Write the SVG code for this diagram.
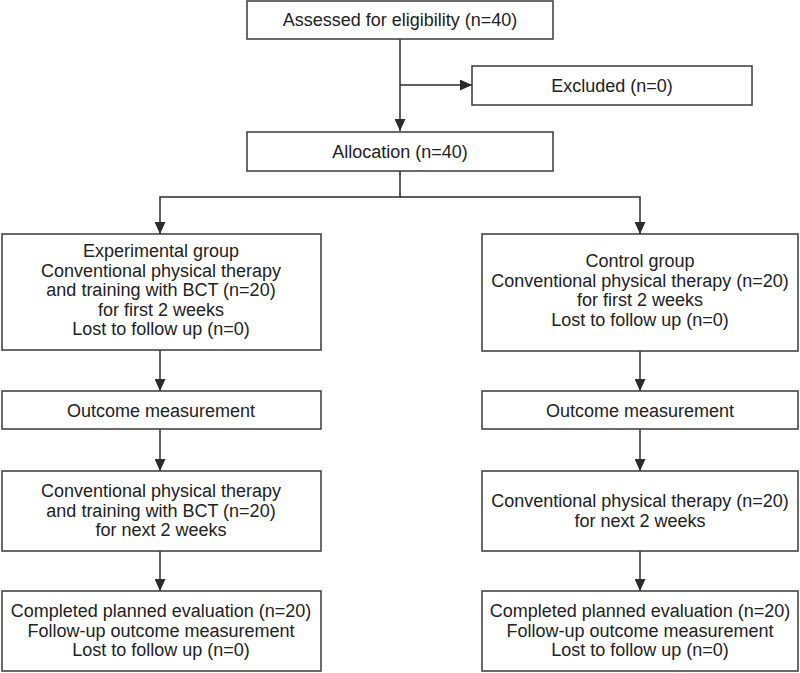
<svg xmlns="http://www.w3.org/2000/svg" width="800" height="673" viewBox="0 0 800 673">
<defs>
<marker id="ah" markerWidth="12" markerHeight="11" refX="12" refY="5.5" orient="auto" markerUnits="userSpaceOnUse">
<path d="M0,0 L12,5.5 L0,11 Z" fill="#2b2b2b"/>
</marker>
<style>
.box{fill:#fff;stroke:#3a3a3a;stroke-width:1.5}
.t{font-family:"Liberation Sans",Arial,sans-serif;font-size:18px;fill:#222;text-anchor:middle}
.c{fill:none;stroke:#2b2b2b;stroke-width:1.5}
</style>
</defs>
<rect width="800" height="673" fill="#fff"/>
<g id="connectors">
<path class="c" d="M400,39 V131" marker-end="url(#ah)"/>
<path class="c" d="M400,85 H472" marker-end="url(#ah)"/>
<path class="c" d="M400,171 V197 H160 V234" marker-end="url(#ah)"/>
<path class="c" d="M400,197 H640 V234" marker-end="url(#ah)"/>
<path class="c" d="M160,350 V391" marker-end="url(#ah)"/>
<path class="c" d="M160,429 V471" marker-end="url(#ah)"/>
<path class="c" d="M160,551 V591" marker-end="url(#ah)"/>
<path class="c" d="M640,351 V391" marker-end="url(#ah)"/>
<path class="c" d="M640,429 V471" marker-end="url(#ah)"/>
<path class="c" d="M640,551 V591" marker-end="url(#ah)"/>
</g>
<g id="assessed">
<rect class="box" x="247" y="1" width="306" height="38"/>
<text class="t" x="400" y="26">Assessed for eligibility (n=40)</text>
</g>
<g id="excluded">
<rect class="box" x="472" y="66" width="280" height="39"/>
<text class="t" x="612" y="92">Excluded (n=0)</text>
</g>
<g id="allocation">
<rect class="box" x="247" y="132" width="306" height="39"/>
<text class="t" x="400" y="158">Allocation (n=40)</text>
</g>
<g id="experimental">
<rect class="box" x="2" y="234" width="319" height="116"/>
<text class="t" x="161" y="257">Experimental group</text>
<text class="t" x="161" y="276.5">Conventional physical therapy</text>
<text class="t" x="161" y="296">and training with BCT (n=20)</text>
<text class="t" x="161" y="315.5">for first 2 weeks</text>
<text class="t" x="161" y="335">Lost to follow up (n=0)</text>
</g>
<g id="control">
<rect class="box" x="482" y="234" width="316" height="117"/>
<text class="t" x="640" y="267">Control group</text>
<text class="t" x="640" y="286.5">Conventional physical therapy (n=20)</text>
<text class="t" x="640" y="306">for first 2 weeks</text>
<text class="t" x="640" y="325.5">Lost to follow up (n=0)</text>
</g>
<g id="outcome-left">
<rect class="box" x="2" y="391" width="319" height="38"/>
<text class="t" x="161" y="417">Outcome measurement</text>
</g>
<g id="outcome-right">
<rect class="box" x="482" y="391" width="316" height="38"/>
<text class="t" x="640" y="417">Outcome measurement</text>
</g>
<g id="therapy-left">
<rect class="box" x="2" y="471" width="319" height="80"/>
<text class="t" x="161" y="497">Conventional physical therapy</text>
<text class="t" x="161" y="516.5">and training with BCT (n=20)</text>
<text class="t" x="161" y="536">for next 2 weeks</text>
</g>
<g id="therapy-right">
<rect class="box" x="482" y="471" width="316" height="80"/>
<text class="t" x="640" y="507">Conventional physical therapy (n=20)</text>
<text class="t" x="640" y="526.5">for next 2 weeks</text>
</g>
<g id="final-left">
<rect class="box" x="2" y="591" width="319" height="80"/>
<text class="t" x="161" y="617">Completed planned evaluation (n=20)</text>
<text class="t" x="161" y="636.5">Follow-up outcome measurement</text>
<text class="t" x="161" y="656">Lost to follow up (n=0)</text>
</g>
<g id="final-right">
<rect class="box" x="482" y="591" width="316" height="80"/>
<text class="t" x="640" y="617">Completed planned evaluation (n=20)</text>
<text class="t" x="640" y="636.5">Follow-up outcome measurement</text>
<text class="t" x="640" y="656">Lost to follow up (n=0)</text>
</g>
</svg>
